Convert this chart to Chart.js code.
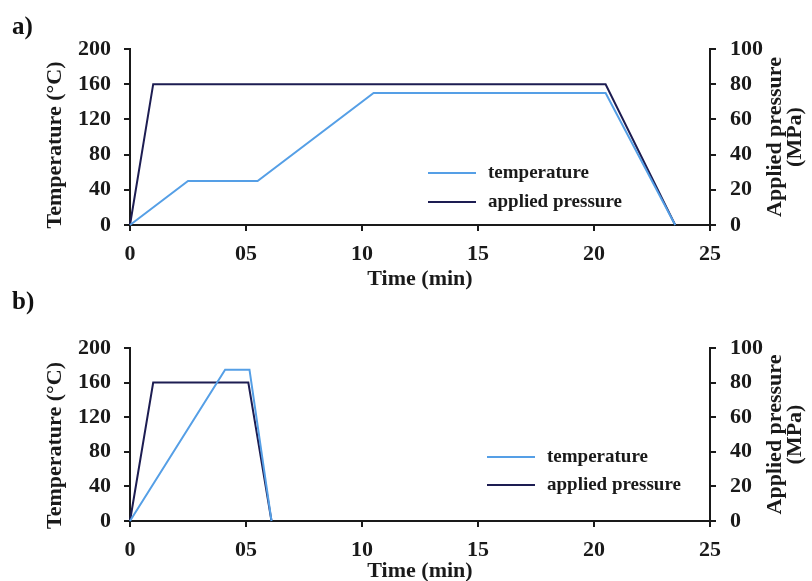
<!DOCTYPE html>
<html>
<head>
<meta charset="utf-8">
<script src="https://cdn.jsdelivr.net/npm/chart.js@4.4.1/dist/chart.umd.min.js"></script>
<style>
  body { margin: 0; background: #fff; }
  #wrap { position: relative; width: 812px; height: 581px; }
  canvas { position: absolute; left: 0; }
  .panel { position: absolute; left: 12px; font: bold 25px "Liberation Serif", serif; color: #111; }
</style>
</head>
<body>
<div id="wrap">
  <canvas id="chartA" width="812" height="290" style="top:0"></canvas>
  <canvas id="chartB" width="812" height="291" style="top:290px"></canvas>
  <div class="panel" style="top:12px">a)</div>
  <div class="panel" style="top:287px">b)</div>
</div>
<script>
// tick labels (the x axis really reads "05")
const xTickLabels = ['0', '05', '10', '15', '20', '25'];

// a) conventional cycle
const tempTimeA = [0, 2.5, 5.5, 10.5, 20.5, 23.5];
const tempA = [0, 50, 50, 150, 150, 0];
const pressTimeA = [0, 1, 20.5, 23.5];
const pressA = [0, 80, 80, 0];

// b) short cycle
const tempTimeB = [0, 4.1, 5.15, 6.1];
const tempB = [0, 175, 175, 0];
const pressTimeB = [0, 1, 5.1, 6.1];
const pressB = [0, 80, 80, 0];

const lightBlue = '#559fe6';
const navy = '#1d1d52';
const ink = '#1a1a1a';
const serif = '"Liberation Serif", "Times New Roman", serif';

function pts(xs, ys) {
  return xs.map((x, i) => ({ x: x, y: ys[i] }));
}

// draws axis titles and the in-plot legend
const decor = {
  id: 'decor',
  afterDraw(chart, args, opts) {
    const c = chart.ctx;
    const a = chart.chartArea;
    c.save();
    c.fillStyle = ink;
    c.font = 'bold 22px ' + serif;
    c.textAlign = 'center';
    c.textBaseline = 'middle';
    // x title
    c.fillText('Time (min)', (a.left + a.right) / 2, a.bottom + opts.xTitleOff);
    // left title
    c.save();
    c.translate(55, (a.top + a.bottom) / 2 + opts.leftShift);
    c.rotate(-Math.PI / 2);
    c.fillText('Temperature (°C)', 0, 0);
    c.restore();
    // right title, two lines
    c.save();
    c.translate(775, (a.top + a.bottom) / 2);
    c.rotate(-Math.PI / 2);
    c.fillText('Applied pressure', 0, 0);
    c.fillText('(MPa)', 0, 20);
    c.restore();
    // legend
    c.font = 'bold 19px ' + serif;
    c.textAlign = 'left';
    chart.data.datasets.forEach((ds, i) => {
      const y = opts.legY + i * opts.legGap;
      c.strokeStyle = ds.borderColor;
      c.lineWidth = 2;
      c.beginPath();
      c.moveTo(opts.legX, y);
      c.lineTo(opts.legX + 48, y);
      c.stroke();
      c.fillText(ds.label, opts.legX + 60, y);
    });
    c.restore();
  }
};

function makeChart(id, tT, tV, pT, pV, h, top, bottom, decorOpts) {
  const axisBase = {
    grid: { drawOnChartArea: false, drawTicks: true, tickLength: 6, color: ink, lineWidth: 2 },
    border: { color: ink, width: 2 },
    ticks: { color: ink, font: { family: serif, size: 22, weight: 'bold' } }
  };
  return new Chart(document.getElementById(id), {
    type: 'line',
    data: {
      datasets: [
        {
          label: 'temperature',
          data: pts(tT, tV),
          borderColor: lightBlue,
          borderWidth: 2,
          pointRadius: 0,
          yAxisID: 'y',
          clip: 4
        },
        {
          label: 'applied pressure',
          data: pts(pT, pV),
          borderColor: navy,
          borderWidth: 2,
          pointRadius: 0,
          yAxisID: 'y2',
          clip: 4
        }
      ]
    },
    options: {
      responsive: false,
      animation: false,
      events: [],
      layout: { padding: { top: top, left: 0, right: 0, bottom: 0 } },
      plugins: { legend: { display: false }, tooltip: { enabled: false }, decor: decorOpts },
      scales: {
        x: {
          ...axisBase,
          type: 'linear',
          min: 0,
          max: 25,
          ticks: {
            ...axisBase.ticks,
            stepSize: 5,
            padding: 10,
            maxRotation: 0,
            callback: (v) => xTickLabels[v / 5]
          },
          afterFit: (s) => { s.height = h - bottom; }
        },
        y: {
          ...axisBase,
          position: 'left',
          min: 0,
          max: 200,
          ticks: { ...axisBase.ticks, stepSize: 40, padding: 13 },
          afterFit: (s) => { s.width = 130; }
        },
        y2: {
          ...axisBase,
          position: 'right',
          min: 0,
          max: 100,
          ticks: { ...axisBase.ticks, stepSize: 20, padding: 14 },
          afterFit: (s) => { s.width = 102; }
        }
      }
    },
    plugins: [decor]
  });
}

makeChart('chartA', tempTimeA, tempA, pressTimeA, pressA, 290, 49, 225,
  { xTitleOff: 54, leftShift: 8, legX: 428, legY: 173, legGap: 29 });
makeChart('chartB', tempTimeB, tempB, pressTimeB, pressB, 291, 58, 231,
  { xTitleOff: 50, leftShift: 11, legX: 487, legY: 167, legGap: 28 });
</script>
</body>
</html>
